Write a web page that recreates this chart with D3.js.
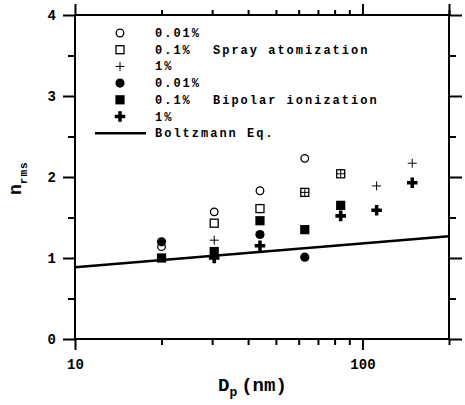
<!DOCTYPE html>
<html>
<head>
<meta charset="utf-8">
<script src="https://cdn.jsdelivr.net/npm/d3@7"></script>
<style>
  html, body { margin: 0; padding: 0; background: #fff; }
  svg text { font-family: "Liberation Mono", "DejaVu Sans Mono", monospace; font-weight: bold; fill: #000; }
</style>
</head>
<body>
<svg id="chart" width="465" height="405"></svg>
<script>
// Particle diameter (nm) and rms charge for each generation method / concentration
const sprayD001 = [20, 30.5, 44, 63];
const sprayN001 = [1.14, 1.57, 1.83, 2.23];
const sprayD01 = [30.5, 44, 63, 84];
const sprayN01 = [1.43, 1.61, 1.81, 2.04];
const sprayD1 = [30.5, 63, 84, 112, 149];
const sprayN1 = [1.22, 1.81, 2.04, 1.89, 2.17];
const bipD001 = [20, 44, 63];
const bipN001 = [1.20, 1.29, 1.01];
const bipD01 = [20, 30.5, 44, 63, 84];
const bipN01 = [1.00, 1.08, 1.46, 1.35, 1.65];
const bipD1 = [30.5, 44, 84, 112, 149];
const bipN1 = [1.00, 1.15, 1.52, 1.59, 1.93];
// Boltzmann equilibrium curve
const boltzD = [10, 200];
const boltzN = [0.885, 1.27];

const xMajor = [10, 100];
const xMinor = [20, 30, 40, 50, 60, 70, 80, 90, 200];
const yMajor = [0, 1, 2, 3, 4];
const yMinor = [0.5, 1.5, 2.5, 3.5];

const legendLabels = ["0.01%", "0.1%", "1%", "0.01%", "0.1%", "1%", "Boltzmann Eq."];
const groupLabels = ["Spray atomization", "Bipolar ionization"];

const svg = d3.select("#chart");
const pLeft = 75, pRight = 449, pTop = 15, pBottom = 339;
const x = d3.scaleLog().domain([10, 200]).range([pLeft, pRight]);
const y = d3.scaleLinear().domain([0, 4]).range([pBottom, pTop]);

function styleAxis(g) {
  g.select(".domain").remove();
  g.selectAll(".tick line").attr("stroke", "#000").attr("stroke-width", 2);
  g.selectAll(".tick text").style("font-size", "14px").attr("fill", "#000");
}

// Axes: major ticks with labels, minor ticks without
svg.append("g").attr("transform", `translate(0,${pBottom})`)
  .call(d3.axisBottom(x).tickValues(xMajor).tickSize(11).tickPadding(9).tickFormat(d3.format("d")))
  .call(styleAxis);
svg.append("g").attr("transform", `translate(0,${pBottom})`)
  .call(d3.axisBottom(x).tickValues(xMinor).tickSize(6).tickFormat(""))
  .call(styleAxis);
svg.append("g").attr("transform", `translate(0,${pTop})`)
  .call(d3.axisTop(x).tickValues(xMajor.concat([200])).tickSize(11).tickFormat(""))
  .call(styleAxis);
svg.append("g").attr("transform", `translate(0,${pTop})`)
  .call(d3.axisTop(x).tickValues(xMinor).tickSize(5).tickFormat(""))
  .call(styleAxis);
svg.append("g").attr("transform", `translate(${pLeft},0)`)
  .call(d3.axisLeft(y).tickValues(yMajor).tickSize(12).tickPadding(7).tickFormat(d3.format("d")))
  .call(styleAxis);
svg.append("g").attr("transform", `translate(${pLeft},0)`)
  .call(d3.axisLeft(y).tickValues(yMinor).tickSize(7).tickFormat(""))
  .call(styleAxis);
svg.append("g").attr("transform", `translate(${pRight},0)`)
  .call(d3.axisRight(y).tickValues(yMajor).tickSize(13).tickFormat(""))
  .call(styleAxis);
svg.append("g").attr("transform", `translate(${pRight},0)`)
  .call(d3.axisRight(y).tickValues(yMinor).tickSize(7).tickFormat(""))
  .call(styleAxis);

// Plot frame
svg.append("rect")
  .attr("x", pLeft).attr("y", pTop)
  .attr("width", pRight - pLeft).attr("height", pBottom - pTop)
  .attr("fill", "none").attr("stroke", "#000").attr("stroke-width", 2);

// Boltzmann line
const line = d3.line().x(d => x(d[0])).y(d => y(d[1]));
svg.append("path")
  .datum(boltzD.map((d, i) => [d, boltzN[i]]))
  .attr("d", line)
  .attr("fill", "none").attr("stroke", "#000").attr("stroke-width", 2.5);

// Marker drawing helpers
const markers = {
  openCircle: g => g.append("circle").attr("r", 3.8).attr("fill", "#fff").attr("stroke", "#000").attr("stroke-width", 1.3),
  openSquare: g => g.append("rect").attr("x", -4).attr("y", -4).attr("width", 8).attr("height", 8)
    .attr("fill", "none").attr("stroke", "#000").attr("stroke-width", 1.3),
  thinPlus: g => g.append("path").attr("d", "M-4.5,0H4.5M0,-4.5V4.5").attr("stroke", "#000").attr("stroke-width", 1),
  filledCircle: g => g.append("circle").attr("r", 4.6).attr("fill", "#000"),
  filledSquare: g => g.append("path").attr("d", d3.symbol(d3.symbolSquare, 85)()).attr("fill", "#000"),
  boldPlus: g => g.append("path").attr("d", d3.symbol(d3.symbolCross, 62)()).attr("fill", "#000")
};

const series = [
  { xs: sprayD001, ys: sprayN001, m: "openCircle" },
  { xs: sprayD01, ys: sprayN01, m: "openSquare" },
  { xs: sprayD1, ys: sprayN1, m: "thinPlus" },
  { xs: bipD1, ys: bipN1, m: "boldPlus" },
  { xs: bipD001, ys: bipN001, m: "filledCircle" },
  { xs: bipD01, ys: bipN01, m: "filledSquare" }
];

series.forEach(s => {
  svg.append("g").selectAll("g")
    .data(s.xs.map((d, i) => [d, s.ys[i]]))
    .join("g")
    .attr("transform", d => `translate(${x(d[0])},${y(d[1])})`)
    .each(function () { markers[s.m](d3.select(this)); });
});

// Legend
const legendMarkers = ["openCircle", "openSquare", "thinPlus", "filledCircle", "filledSquare", "boldPlus"];
const leg = svg.append("g");
legendLabels.forEach((lab, i) => {
  const cy = 33 + i * 16.7;
  if (i < 6) {
    const g = leg.append("g").attr("transform", `translate(120,${cy})`);
    markers[legendMarkers[i]](g);
  } else {
    leg.append("line").attr("x1", 95).attr("x2", 146).attr("y1", cy).attr("y2", cy)
      .attr("stroke", "#000").attr("stroke-width", 2.5);
  }
  leg.append("text").attr("x", 155).attr("y", cy + 4)
    .style("font-size", "12px").style("letter-spacing", "2px").text(lab);
});
groupLabels.forEach((lab, i) => {
  leg.append("text").attr("x", 213).attr("y", 54 + i * 50)
    .style("font-size", "12px").style("letter-spacing", "2px").text(lab);
});

// Axis titles
const xt = svg.append("text").attr("x", 218).attr("y", 391).style("font-size", "19px");
xt.append("tspan").text("D");
xt.append("tspan").attr("dy", 5).style("font-size", "13px").text("p");
xt.append("tspan").attr("dy", -5).attr("dx", 4).text("(nm)");

const yt = svg.append("text").attr("transform", "translate(21,195) rotate(-90)").style("font-size", "18px");
yt.append("tspan").text("n");
yt.append("tspan").attr("dy", 6).style("font-size", "11px").style("letter-spacing", "1px").text("rms");
</script>
</body>
</html>
